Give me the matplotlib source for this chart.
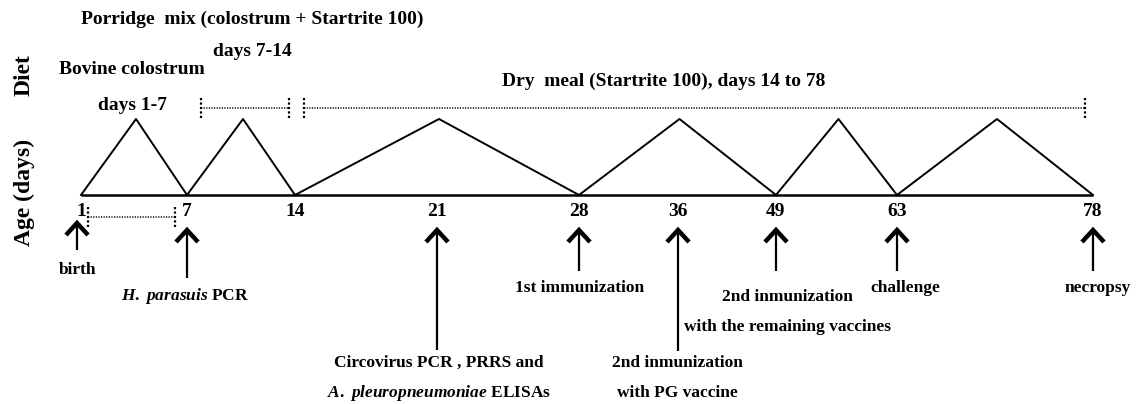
import numpy as np
import matplotlib
matplotlib.use('Agg')
from matplotlib import pyplot as plt

plt.rcParams['font.family'] = ['Liberation Serif', 'DejaVu Serif']
plt.rcParams['font.weight'] = 'bold'
plt.rcParams['mathtext.fontset'] = 'custom'
plt.rcParams['mathtext.rm'] = 'Liberation Serif:bold'
plt.rcParams['mathtext.it'] = 'Liberation Serif:italic:bold'

# day ticks on the time line (schematic, not to scale)
days = [1, 7, 14, 21, 28, 36, 49, 63, 78]
# triangles drawn between these days
segment_days = [1, 7, 14, 28, 49, 63, 78]

# diet periods
diet_names = ['Bovine colostrum', 'Porridge  mix (colostrum + Startrite 100)',
              'Dry  meal (Startrite 100), days 14 to 78']
diet_days = ['days 1-7', 'days 7-14', '']

# events with arrows
event_days = [1, 7, 21, 28, 36, 49, 63, 78]
event_labels = [
    ['birth'],
    [r'$\mathit{H.\ parasuis}$ PCR'],
    ['Circovirus PCR , PRRS and', r'$\mathit{A.\ pleuropneumoniae}$ ELISAs'],
    ['1st immunization'],
    ['2nd inmunization', 'with PG vaccine'],
    ['2nd inmunization', 'with the remaining vaccines'],
    ['challenge'],
    ['necropsy'],
]

# ---- layout (pixel space of the 1136x404 picture) ----
tick_x = [81, 187, 295, 437, 579, 678, 776, 897, 1093]
base_y = 195
peak_y = 119
arrow_top = [223, 230, 230, 230, 230, 230, 230, 230]
arrow_bottom = [250, 278, 350, 271, 351, 271, 271, 271]
label_y = [270, 296, 363, 288, 363, 297, 288, 288]
label_dx = [1, -2, 2, 1, -1, 11, 8, 5]
line_gap = 30


def dx(day):
    return np.interp(day, days, tick_x)


fig = plt.figure(figsize=(11.36, 4.04), dpi=100)
ax = fig.add_axes([0, 0, 1, 1])
ax.set_xlim(0, 1136)
ax.set_ylim(404, 0)
ax.axis('off')

# base line and triangles
ax.plot([dx(days[0]), dx(days[-1])], [base_y, base_y], color='black', lw=1.8, solid_capstyle='butt')
for a, b in zip(segment_days[:-1], segment_days[1:]):
    xa, xb = dx(a), dx(b)
    ax.plot([xa, (xa + xb) / 2 + 2, xb], [base_y, peak_y, base_y], color='black', lw=1.4)

# day labels
for d in days:
    ax.text(dx(d), 212, str(d), ha='center', va='center', fontsize=14)


def bracket(x0, x1, y, h=10):
    ax.plot([x0, x1], [y, y], color='black', lw=1.1, ls=(0, (0.8, 0.9)))
    for x in (x0, x1):
        ax.plot([x, x], [y - h, y + h], color='black', lw=1.6, ls=(0, (1.0, 1.0)))


# diet brackets
bracket(dx(1) + 7, dx(7) - 12, 217)
bracket(dx(7) + 14, dx(14) - 6, 108)
bracket(dx(14) + 9, dx(78) - 8, 108)

# diet texts
ax.text(132, 69, diet_names[0], ha='center', va='center', fontsize=14)
ax.text(132, 105, diet_days[0], ha='center', va='center', fontsize=14)
ax.text(252, 19, diet_names[1], ha='center', va='center', fontsize=14)
ax.text(252, 52, diet_days[1], ha='center', va='center', fontsize=14)
ax.text(664, 81, diet_names[2], ha='center', va='center', fontsize=14)

# side labels
ax.text(24, 75, 'Diet', rotation=90, ha='center', va='center', fontsize=17)
ax.text(24, 192, 'Age (days)', rotation=90, ha='center', va='center', fontsize=17)

# event arrows
for i, d in enumerate(event_days):
    x = dx(d) - (4 if d == 1 else 0)
    top = arrow_top[i]
    ax.plot([x, x], [top + 2, arrow_bottom[i]], color='black', lw=1.6, solid_capstyle='butt')
    ax.plot([x - 11, x, x + 11], [top + 12, top, top + 12], color='black', lw=3.2,
            solid_joinstyle='miter', solid_capstyle='butt')
    for j, line in enumerate(event_labels[i]):
        ax.text(x + label_dx[i], label_y[i] + j * line_gap, line, ha='center', va='center', fontsize=12.5)

fig.savefig('out.png', dpi=100)
